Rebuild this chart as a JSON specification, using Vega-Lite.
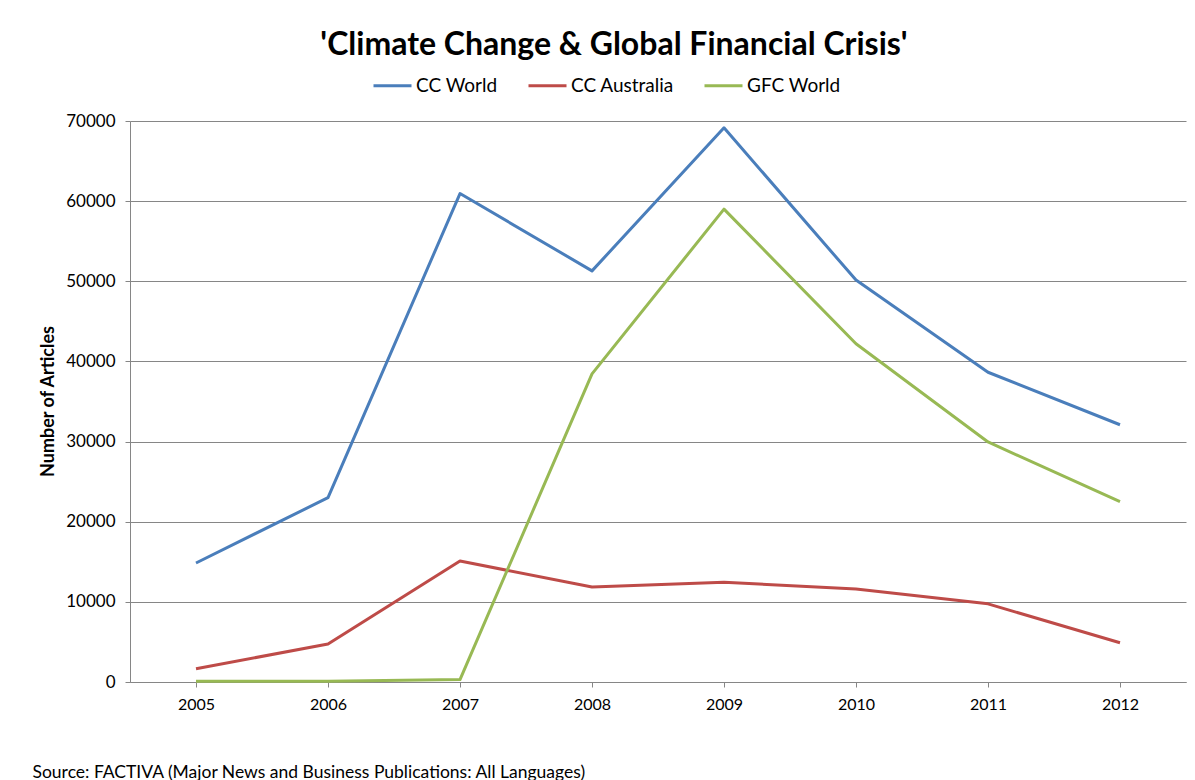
{
  "$schema": "https://vega.github.io/schema/vega-lite/v6.json",
  "width": 1056,
  "height": 561,
  "autosize": {"type": "none"},
  "padding": {"left": 130, "top": 121, "right": 9, "bottom": 98},
  "background": "white",
  "title": {
    "text": "'Climate Change & Global Financial Crisis'",
    "fontSize": 32,
    "fontWeight": "bold",
    "font": "Lato",
    "color": "#000000",
    "anchor": "middle",
    "dx": -44,
    "offset": 3
  },
  "data": {
    "values": [
      {"year": "2005", "series": "CC World", "value": 14850},
      {"year": "2006", "series": "CC World", "value": 23000},
      {"year": "2007", "series": "CC World", "value": 60950},
      {"year": "2008", "series": "CC World", "value": 51300},
      {"year": "2009", "series": "CC World", "value": 69150},
      {"year": "2010", "series": "CC World", "value": 50150},
      {"year": "2011", "series": "CC World", "value": 38650},
      {"year": "2012", "series": "CC World", "value": 32100},
      {"year": "2005", "series": "CC Australia", "value": 1650},
      {"year": "2006", "series": "CC Australia", "value": 4750},
      {"year": "2007", "series": "CC Australia", "value": 15100},
      {"year": "2008", "series": "CC Australia", "value": 11850},
      {"year": "2009", "series": "CC Australia", "value": 12450},
      {"year": "2010", "series": "CC Australia", "value": 11600},
      {"year": "2011", "series": "CC Australia", "value": 9750},
      {"year": "2012", "series": "CC Australia", "value": 4900},
      {"year": "2005", "series": "GFC World", "value": 100},
      {"year": "2006", "series": "GFC World", "value": 100},
      {"year": "2007", "series": "GFC World", "value": 300},
      {"year": "2008", "series": "GFC World", "value": 38450},
      {"year": "2009", "series": "GFC World", "value": 59000},
      {"year": "2010", "series": "GFC World", "value": 42200},
      {"year": "2011", "series": "GFC World", "value": 29950},
      {"year": "2012", "series": "GFC World", "value": 22500}
    ]
  },
  "mark": {"type": "line", "strokeWidth": 3, "strokeJoin": "round"},
  "encoding": {
    "x": {
      "field": "year",
      "type": "ordinal",
      "scale": {"type": "point", "padding": 0.5},
      "axis": {
        "labelAngle": 0,
        "labelFontSize": 16,
        "labelColor": "#000000",
        "labelPadding": 9,
        "domainColor": "#868686",
        "tickColor": "#868686",
        "tickSize": 5,
        "grid": false,
        "title": "Source: FACTIVA (Major News and Business Publications: All Languages)",
        "titleFontSize": 17.5,
        "titleFontWeight": "normal",
        "titleColor": "#000000",
        "titleAnchor": "start",
        "titleAlign": "left",
        "titleX": -98,
        "titleY": 90,
        "titleBaseline": "middle"
      }
    },
    "y": {
      "field": "value",
      "type": "quantitative",
      "scale": {"domain": [0, 70000]},
      "axis": {
        "values": [0, 10000, 20000, 30000, 40000, 50000, 60000, 70000],
        "format": "d",
        "labelFontSize": 17,
        "labelColor": "#000000",
        "labelPadding": 10,
        "domainColor": "#868686",
        "tickColor": "#868686",
        "tickSize": 5,
        "gridColor": "#868686",
        "gridWidth": 1,
        "title": "Number of Articles",
        "titleFontSize": 18,
        "titleFontWeight": "bold",
        "titleColor": "#000000",
        "titleX": -82,
        "titleY": 280,
        "titleAlign": "center",
        "titleBaseline": "middle",
        "titleAngle": -90
      }
    },
    "color": {
      "field": "series",
      "type": "nominal",
      "sort": ["CC World", "CC Australia", "GFC World"],
      "scale": {
        "domain": ["CC World", "CC Australia", "GFC World"],
        "range": ["#4A7EBB", "#BE4B48", "#98B954"]
      },
      "legend": {
        "orient": "none",
        "direction": "horizontal",
        "legendX": 242,
        "legendY": -56,
        "title": null,
        "symbolType": "stroke",
        "symbolStrokeWidth": 3,
        "symbolSize": 1444,
        "labelFontSize": 19,
        "labelColor": "#000000",
        "labelOffset": 3,
        "columnPadding": 24
      }
    }
  },
  "config": {
    "view": {"stroke": null},
    "font": "Lato"
  }
}
